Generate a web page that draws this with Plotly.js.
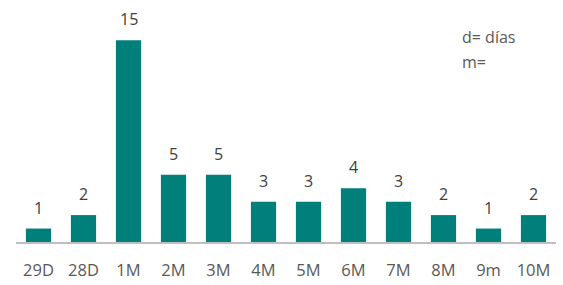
<!DOCTYPE html>
<html><head><meta charset="utf-8">
<script src="https://cdn.plot.ly/plotly-3.0.1.min.js"></script>
<style>html,body{margin:0;padding:0;background:#fff;}#chart{width:563px;height:285px;}</style>
</head><body><div id="chart"></div>
<script>
var categories = ["29D","28D","1M","2M","3M","4M","5M","6M","7M","8M","9m","10M"];
var counts = [1,2,15,5,5,3,3,4,3,2,1,2];
var noteLines = ["d= días","m="];

var FONT = "Open Sans, sans-serif";
var trace = {
  type: "bar",
  x: categories,
  y: counts,
  marker: {color: "#007F7B"},
  hoverinfo: "none"
};
var valueLabels = categories.map(function(c, i){
  return {text: String(counts[i]), x: c, y: counts[i], xref: "x", yref: "y",
    xanchor: "center", yanchor: "bottom", yshift: 8, showarrow: false,
    font: {family: FONT, size: 16, color: "#404040"}};
});
var notes = noteLines.map(function(t, i){
  return {text: t, xref: "paper", yref: "paper", x: 0.822, y: 0.923 - i*0.112,
    xanchor: "left", yanchor: "middle", showarrow: false,
    font: {family: FONT, size: 16, color: "#595959"}};
});
var layout = {
  width: 563, height: 285,
  margin: {l: 16, r: 7, t: 20, b: 43},
  paper_bgcolor: "#fff", plot_bgcolor: "#fff",
  bargap: 0.44,
  showlegend: false,
  font: {family: FONT},
  xaxis: {
    type: "category",
    showline: true, linecolor: "#BFBFBF", linewidth: 1.5,
    showgrid: false, zeroline: false,
    ticks: "", ticklabelstandoff: 13,
    tickfont: {family: FONT, size: 16.5, color: "#595959"}
  },
  yaxis: {
    range: [0, 16.5], visible: false, showgrid: false, zeroline: false
  },
  annotations: valueLabels.concat(notes)
};
Plotly.newPlot("chart", [trace], layout, {staticPlot: true});
</script></body></html>
